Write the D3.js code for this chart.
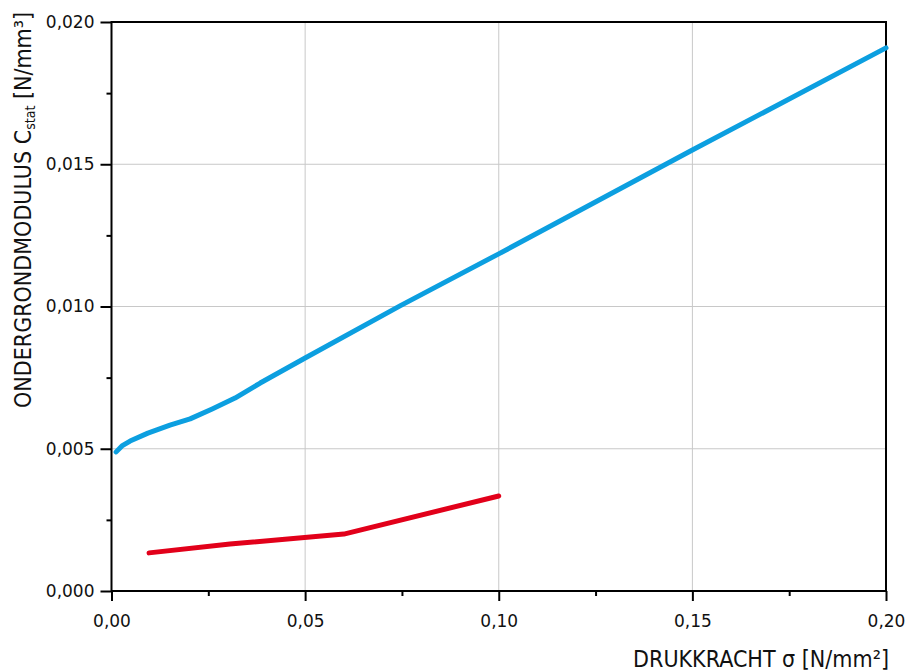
<!DOCTYPE html>
<html>
<head>
<meta charset="utf-8">
<script src="https://cdn.jsdelivr.net/npm/d3@7"></script>
<style>
  body { margin: 0; background: #fff; }
  text { font-family: "DejaVu Sans Condensed", "Liberation Sans Narrow", sans-serif; }
</style>
</head>
<body>
<script>
// blue curve
var blueX = [0.0012, 0.0027, 0.0048, 0.0094, 0.0151, 0.0203, 0.026, 0.0319, 0.0384, 0.05, 0.0745, 0.10, 0.15, 0.20];
var blueY = [0.00489, 0.0051, 0.00527, 0.00555, 0.00583, 0.00605, 0.0064, 0.00678, 0.00731, 0.00819, 0.01002, 0.01185, 0.0155, 0.01909];
// red curve
var redX = [0.0097, 0.0306, 0.060, 0.10];
var redY = [0.00134, 0.00165, 0.0020, 0.00334];

var xTicks = [0, 0.05, 0.10, 0.15, 0.20];
var yTicks = [0, 0.005, 0.010, 0.015, 0.020];
var xMinor = [0.025, 0.075, 0.125, 0.175];
var yMinor = [0.0025, 0.0075, 0.0125, 0.0175];

var W = 905, H = 672;
var margin = { top: 22, right: 19, bottom: 81, left: 111.5 };
var width = W - margin.left - margin.right,
    height = H - margin.top - margin.bottom;

var x = d3.scaleLinear().domain([0, 0.2]).range([0, width]);
var y = d3.scaleLinear().domain([0, 0.02]).range([height, 0]);

var svg = d3.select('body').append('svg')
    .attr('width', W)
    .attr('height', H);

var main = svg.append('g')
    .attr('transform', 'translate(' + margin.left + ',' + margin.top + ')');

// grid
main.append('g').selectAll('line.gx')
    .data(xTicks.slice(1, -1))
    .enter().append('line')
    .attr('x1', function (d) { return x(d); })
    .attr('x2', function (d) { return x(d); })
    .attr('y1', 0).attr('y2', height)
    .attr('stroke', '#c8c8c8').attr('stroke-width', 1);

main.append('g').selectAll('line.gy')
    .data(yTicks.slice(1, -1))
    .enter().append('line')
    .attr('y1', function (d) { return y(d); })
    .attr('y2', function (d) { return y(d); })
    .attr('x1', 0).attr('x2', width)
    .attr('stroke', '#c8c8c8').attr('stroke-width', 1);

var fmtX = function (d) { return d3.format('.2f')(d).replace('.', ','); };
var fmtY = function (d) { return d3.format('.3f')(d).replace('.', ','); };

// axes
var xAxis = main.append('g')
    .attr('transform', 'translate(0,' + height + ')')
    .call(d3.axisBottom(x).tickValues(xTicks).tickFormat(fmtX).tickSize(10).tickPadding(14));
var xAxisMinor = main.append('g')
    .attr('transform', 'translate(0,' + height + ')')
    .call(d3.axisBottom(x).tickValues(xMinor).tickFormat('').tickSize(5));

var yAxis = main.append('g')
    .call(d3.axisLeft(y).tickValues(yTicks).tickFormat(fmtY).tickSize(11).tickPadding(6));
var yAxisMinor = main.append('g')
    .call(d3.axisLeft(y).tickValues(yMinor).tickFormat('').tickSize(5));

[xAxis, xAxisMinor, yAxis, yAxisMinor].forEach(function (a) {
    a.select('.domain').remove();
    a.selectAll('line').attr('stroke', '#000').attr('stroke-width', 2);
    a.selectAll('text').attr('font-size', 17).attr('fill', '#111')
        .style('font-family', '"DejaVu Sans", sans-serif');
});

// frame
main.append('rect')
    .attr('x', 0).attr('y', 0)
    .attr('width', width).attr('height', height)
    .attr('fill', 'none').attr('stroke', '#000').attr('stroke-width', 2);

var line = d3.line()
    .x(function (d) { return x(d[0]); })
    .y(function (d) { return y(d[1]); });

main.append('path')
    .datum(d3.zip(blueX, blueY))
    .attr('d', line)
    .attr('fill', 'none')
    .attr('stroke', '#0c9fe0')
    .attr('stroke-width', 5)
    .attr('stroke-linecap', 'round')
    .attr('stroke-linejoin', 'round');

main.append('path')
    .datum(d3.zip(redX, redY))
    .attr('d', line)
    .attr('fill', 'none')
    .attr('stroke', '#e2001a')
    .attr('stroke-width', 5)
    .attr('stroke-linecap', 'round')
    .attr('stroke-linejoin', 'round');

// axis titles
svg.append('text')
    .attr('x', 889).attr('y', 667)
    .attr('text-anchor', 'end')
    .attr('font-size', 23)
    .attr('fill', '#111')
    .text('DRUKKRACHT σ [N/mm²]');

var yt = svg.append('text')
    .attr('transform', 'translate(31,408) rotate(-90)')
    .attr('text-anchor', 'start')
    .attr('font-size', 23)
    .attr('fill', '#111');
yt.append('tspan').text('ONDERGRONDMODULUS C');
yt.append('tspan').attr('font-size', 14).attr('dy', 4).text('stat');
yt.append('tspan').attr('dy', -4).text(' [N/mm³]');
</script>
</body>
</html>
